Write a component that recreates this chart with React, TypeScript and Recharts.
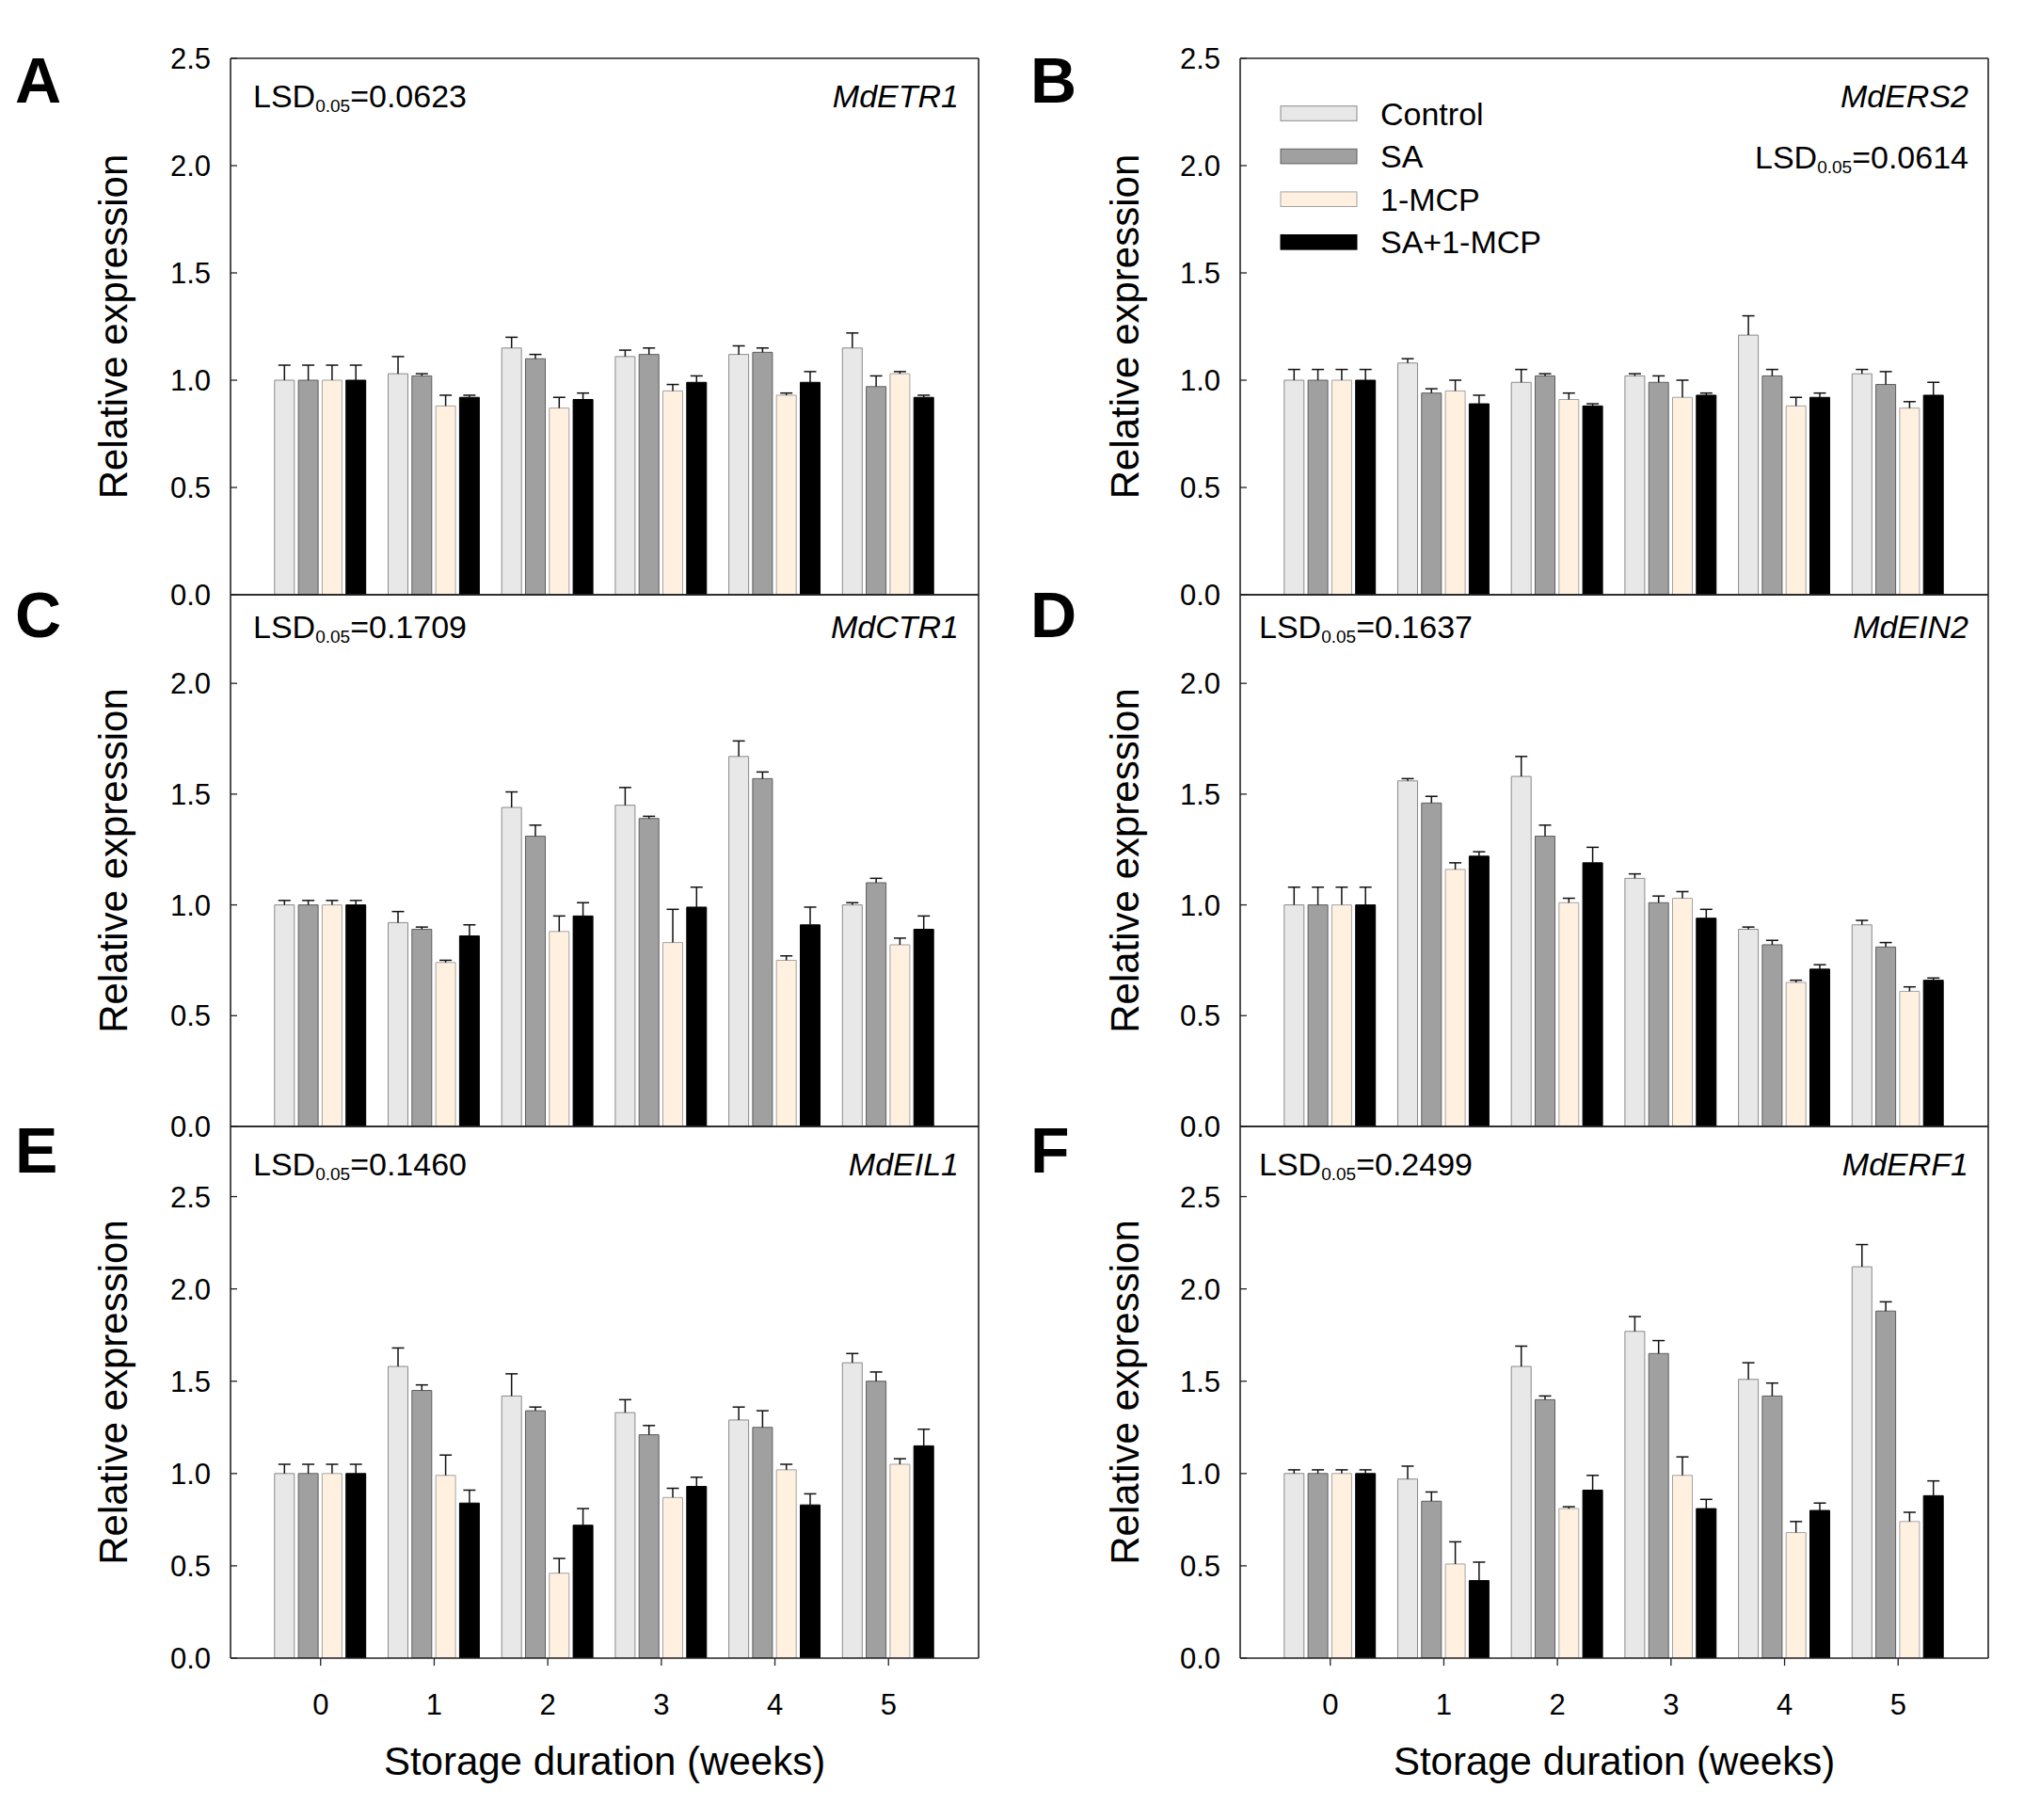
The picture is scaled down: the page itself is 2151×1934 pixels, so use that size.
import React from 'react';
import { BarChart, Bar, XAxis, YAxis, ErrorBar } from 'recharts';

const FONT = '"Liberation Sans", Arial, Helvetica, sans-serif';

const weeks = ['0', '1', '2', '3', '4', '5'];
const treatments = ['Control', 'SA', '1-MCP', 'SA+1-MCP'];
const fills = ['#e8e8e8', '#a0a0a0', '#fff0e0', '#000000'];
const strokes = ['#8a8a8a', '#5e5e5e', '#a3a3a3', '#000000'];

const ticksFull = [0, 0.5, 1, 1.5, 2, 2.5];
const ticksMid = [0, 0.5, 1, 1.5, 2];

// rows: Control, SA, 1-MCP, SA+1-MCP ; columns: weeks 0..5
const etr1Mean = [
  [1.0, 1.03, 1.15, 1.11, 1.12, 1.15],
  [1.0, 1.02, 1.1, 1.12, 1.13, 0.97],
  [1.0, 0.88, 0.87, 0.95, 0.93, 1.03],
  [1.0, 0.92, 0.91, 0.99, 0.99, 0.92],
];
const etr1Err = [
  [0.07, 0.08, 0.05, 0.03, 0.04, 0.07],
  [0.07, 0.01, 0.02, 0.03, 0.02, 0.05],
  [0.07, 0.05, 0.05, 0.03, 0.01, 0.01],
  [0.07, 0.01, 0.03, 0.03, 0.05, 0.01],
];

const ers2Mean = [
  [1.0, 1.08, 0.99, 1.02, 1.21, 1.03],
  [1.0, 0.94, 1.02, 0.99, 1.02, 0.98],
  [1.0, 0.95, 0.91, 0.92, 0.88, 0.87],
  [1.0, 0.89, 0.88, 0.93, 0.92, 0.93],
];
const ers2Err = [
  [0.05, 0.02, 0.06, 0.01, 0.09, 0.02],
  [0.05, 0.02, 0.01, 0.03, 0.03, 0.06],
  [0.05, 0.05, 0.03, 0.08, 0.04, 0.03],
  [0.05, 0.04, 0.01, 0.01, 0.02, 0.06],
];

const ctr1Mean = [
  [1.0, 0.92, 1.44, 1.45, 1.67, 1.0],
  [1.0, 0.89, 1.31, 1.39, 1.57, 1.1],
  [1.0, 0.74, 0.88, 0.83, 0.75, 0.82],
  [1.0, 0.86, 0.95, 0.99, 0.91, 0.89],
];
const ctr1Err = [
  [0.02, 0.05, 0.07, 0.08, 0.07, 0.01],
  [0.02, 0.01, 0.05, 0.01, 0.03, 0.02],
  [0.02, 0.01, 0.07, 0.15, 0.02, 0.03],
  [0.02, 0.05, 0.06, 0.09, 0.08, 0.06],
];

const ein2Mean = [
  [1.0, 1.56, 1.58, 1.12, 0.89, 0.91],
  [1.0, 1.46, 1.31, 1.01, 0.82, 0.81],
  [1.0, 1.16, 1.01, 1.03, 0.65, 0.61],
  [1.0, 1.22, 1.19, 0.94, 0.71, 0.66],
];
const ein2Err = [
  [0.08, 0.01, 0.09, 0.02, 0.01, 0.02],
  [0.08, 0.03, 0.05, 0.03, 0.02, 0.02],
  [0.08, 0.03, 0.02, 0.03, 0.01, 0.02],
  [0.08, 0.02, 0.07, 0.04, 0.02, 0.01],
];

const eil1Mean = [
  [1.0, 1.58, 1.42, 1.33, 1.29, 1.6],
  [1.0, 1.45, 1.34, 1.21, 1.25, 1.5],
  [1.0, 0.99, 0.46, 0.87, 1.02, 1.05],
  [1.0, 0.84, 0.72, 0.93, 0.83, 1.15],
];
const eil1Err = [
  [0.05, 0.1, 0.12, 0.07, 0.07, 0.05],
  [0.05, 0.03, 0.02, 0.05, 0.09, 0.05],
  [0.05, 0.11, 0.08, 0.05, 0.03, 0.03],
  [0.05, 0.07, 0.09, 0.05, 0.06, 0.09],
];

const erf1Mean = [
  [1.0, 0.97, 1.58, 1.77, 1.51, 2.12],
  [1.0, 0.85, 1.4, 1.65, 1.42, 1.88],
  [1.0, 0.51, 0.81, 0.99, 0.68, 0.74],
  [1.0, 0.42, 0.91, 0.81, 0.8, 0.88],
];
const erf1Err = [
  [0.02, 0.07, 0.11, 0.08, 0.09, 0.12],
  [0.02, 0.05, 0.02, 0.07, 0.07, 0.05],
  [0.02, 0.12, 0.01, 0.1, 0.06, 0.05],
  [0.02, 0.1, 0.08, 0.05, 0.04, 0.08],
];

const panels = [
  { letter: 'A', gene: 'MdETR1', lsd: '0.0623', mean: etr1Mean, err: etr1Err, col: 0, row: 0 },
  { letter: 'B', gene: 'MdERS2', lsd: '0.0614', mean: ers2Mean, err: ers2Err, col: 1, row: 0 },
  { letter: 'C', gene: 'MdCTR1', lsd: '0.1709', mean: ctr1Mean, err: ctr1Err, col: 0, row: 1 },
  { letter: 'D', gene: 'MdEIN2', lsd: '0.1637', mean: ein2Mean, err: ein2Err, col: 1, row: 1 },
  { letter: 'E', gene: 'MdEIL1', lsd: '0.1460', mean: eil1Mean, err: eil1Err, col: 0, row: 2 },
  { letter: 'F', gene: 'MdERF1', lsd: '0.2499', mean: erf1Mean, err: erf1Err, col: 1, row: 2 },
];

// page layout (plot boxes)
const COL_X = [245, 1318];
const ROW_Y = [62, 632, 1197];
const ROW_H = [570, 565, 565];
const ROW_MAX = [2.5, 2.4, 2.88];
const ROW_TICKS = [ticksFull, ticksMid, ticksFull];
const PLOT_W = 795;
const PAD = 35.4;

const axisStyle = { stroke: '#222', strokeWidth: 1.6 };
const tickStyle = { stroke: '#222', strokeWidth: 1.3 };

// only the upper half of each error bar is shown, so hide the lower cap
const css = 'body{margin:0} .recharts-errorBar > line:nth-of-type(3){display:none}';

function Panel({ p }: { p: any }) {
  const last = p.row === 2;
  const data = weeks.map((w, i) => {
    const row: any = { week: w };
    treatments.forEach((_, k) => {
      row['s' + k] = p.mean[k][i];
      row['e' + k] = [0, p.err[k][i]];
    });
    return row;
  });
  const h = ROW_H[p.row];
  const below = last ? 110 : 20;
  const bottomH = last ? 80 : 1;
  const domain = [0, ROW_MAX[p.row]];
  return (
    <div style={{ position: 'absolute', left: COL_X[p.col] - 100, top: ROW_Y[p.row] - 20 }}>
      <BarChart
        width={PLOT_W + 120}
        height={20 + h + below}
        data={data}
        margin={{ top: 19, right: 19, left: 0, bottom: below - bottomH }}
        barCategoryGap={11.4}
        barGap={4.3}
      >
        <XAxis
          dataKey="week"
          padding={{ left: PAD, right: PAD }}
          height={bottomH}
          tickSize={8}
          tickMargin={30}
          interval={0}
          axisLine={axisStyle}
          tickLine={tickStyle}
          tick={last ? { fill: '#000', fontSize: 31, fontFamily: FONT } : false}
        />
        <XAxis
          xAxisId="top"
          orientation="top"
          dataKey="week"
          padding={{ left: PAD, right: PAD }}
          height={1}
          tickSize={-7}
          interval={0}
          axisLine={axisStyle}
          tickLine={tickStyle}
          tick={false}
        />
        <YAxis
          domain={domain}
          ticks={ROW_TICKS[p.row]}
          allowDataOverflow
          interval={0}
          width={100}
          tickSize={-7}
          tickMargin={28}
          axisLine={axisStyle}
          tickLine={tickStyle}
          tickFormatter={(v: number) => v.toFixed(1)}
          tick={{ fill: '#000', fontSize: 31, fontFamily: FONT }}
        />
        <YAxis
          yAxisId="r"
          orientation="right"
          domain={domain}
          ticks={ROW_TICKS[p.row]}
          allowDataOverflow
          interval={0}
          width={1}
          tickSize={-7}
          axisLine={axisStyle}
          tickLine={tickStyle}
          tick={false}
        />
        {treatments.map((t, k) => (
          <Bar
            key={t}
            dataKey={'s' + k}
            name={t}
            fill={fills[k]}
            stroke={strokes[k]}
            strokeWidth={1}
            isAnimationActive={false}
          >
            <ErrorBar
              dataKey={'e' + k}
              direction="y"
              width={6.5}
              stroke="#111"
              strokeWidth={1.5}
              isAnimationActive={false}
            />
          </Bar>
        ))}
      </BarChart>
    </div>
  );
}

const LSD_BASE = [114, 678, 1249];

function Labels() {
  return (
    <svg
      width={2151}
      height={1934}
      style={{ position: 'absolute', left: 0, top: 0, pointerEvents: 'none' }}
      fontFamily={FONT}
    >
      {panels.map((p) => {
        const x0 = COL_X[p.col];
        const y0 = ROW_Y[p.row];
        const cy = y0 + ROW_H[p.row] / 2;
        const tx = p.col === 0 ? 135 : 1210;
        const letterX = p.col === 0 ? 16 : 1095;
        const letterY = [109, 677, 1246][p.row];
        const isB = p.letter === 'B';
        return (
          <g key={p.letter}>
            <text x={letterX} y={letterY} fontSize={68} fontWeight="bold" fill="#000">
              {p.letter}
            </text>
            <text
              x={tx}
              y={cy}
              fontSize={42}
              textAnchor="middle"
              transform={`rotate(-90 ${tx} ${cy})`}
              fill="#000"
            >
              Relative expression
            </text>
            <text
              x={isB ? x0 + PLOT_W - 21 : x0 + (p.col === 0 ? 24 : 20)}
              y={isB ? 179 : LSD_BASE[p.row]}
              fontSize={34}
              textAnchor={isB ? 'end' : 'start'}
              fill="#000"
            >
              LSD
              <tspan fontSize={19} dy={5}>0.05</tspan>
              <tspan dy={-5}>={p.lsd}</tspan>
            </text>
            <text
              x={x0 + PLOT_W - 21}
              y={LSD_BASE[p.row]}
              fontSize={34}
              fontStyle="italic"
              textAnchor="end"
              fill="#000"
            >
              {p.gene}
            </text>
            {p.row === 2 && (
              <text x={x0 + PLOT_W / 2} y={1886} fontSize={42} textAnchor="middle" fill="#000">
                Storage duration (weeks)
              </text>
            )}
          </g>
        );
      })}
      {treatments.map((t, k) => {
        const cy = 120.5 + k * 45.6;
        return (
          <g key={t}>
            <rect x={1361} y={cy - 7.8} width={81} height={15.6} fill={fills[k]} stroke={strokes[k]} strokeWidth={1} />
            <text x={1467} y={cy + 12} fontSize={34} fill="#000">
              {t}
            </text>
          </g>
        );
      })}
    </svg>
  );
}

export default function App() {
  return (
    <div style={{ position: 'relative', width: 2151, height: 1934, background: '#fff', overflow: 'hidden' }}>
      <style>{css}</style>
      {panels.map((p) => (
        <Panel key={p.letter} p={p} />
      ))}
      <Labels />
    </div>
  );
}
